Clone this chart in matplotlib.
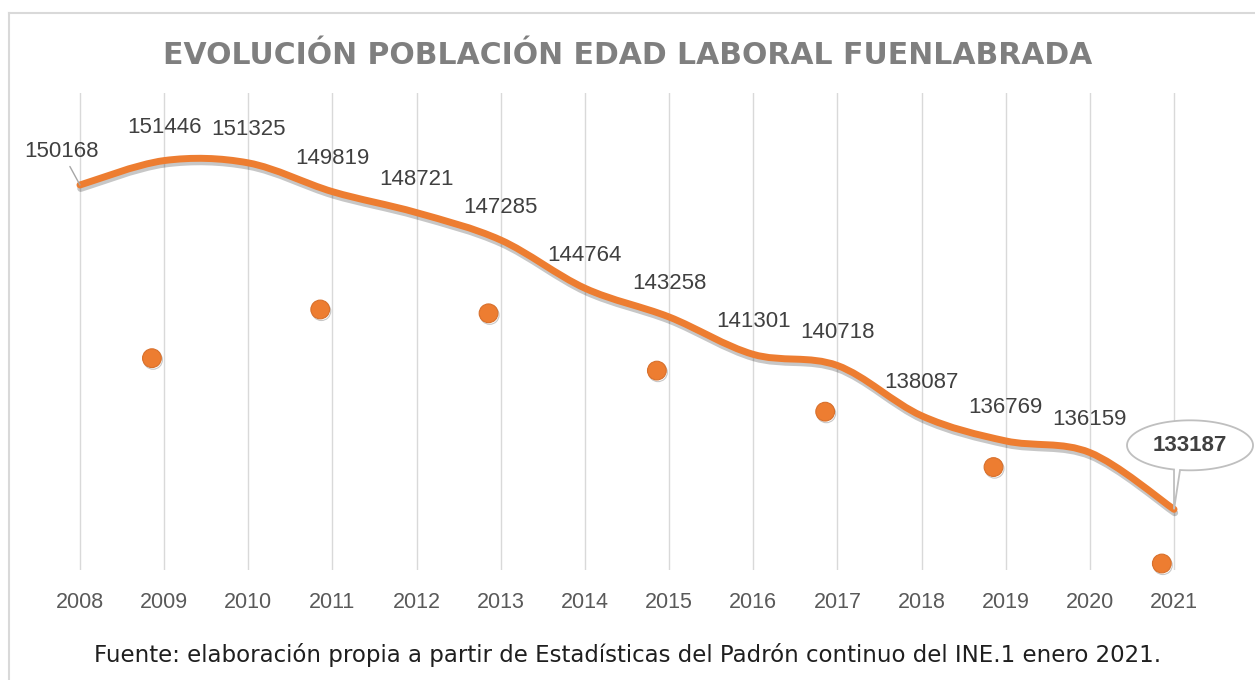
import numpy as np
import matplotlib
matplotlib.use("Agg")
import matplotlib.pyplot as plt
from matplotlib.path import Path
from matplotlib.patches import PathPatch, Polygon
import matplotlib.patheffects as pe
from matplotlib.lines import Line2D
from matplotlib.transforms import IdentityTransform

# ---------------- data ----------------
years = [2008, 2009, 2010, 2011, 2012, 2013, 2014, 2015, 2016, 2017, 2018, 2019, 2020, 2021]
poblacion = [150168, 151446, 151325, 149819, 148721, 147285, 144764,
             143258, 141301, 140718, 138087, 136769, 136159, 133187]
dot_years = [2009, 2011, 2013, 2015, 2017, 2019, 2021]
dot_values = [141100, 143650, 143450, 140450, 138300, 135400, 130350]
title = "EVOLUCIÓN POBLACIÓN EDAD LABORAL FUENLABRADA"
source = "Fuente: elaboración propia a partir de Estadísticas del Padrón continuo del INE.1 enero 2021."

# ---------------- style ----------------
ORANGE = "#ED7D31"
GRID = "#d9d9d9"
DOT_SHIFT = -0.145
W, H = 1255, 680
LBL_FONT = "Liberation Sans"

fig = plt.figure(figsize=(W / 100, H / 100), dpi=100)
fig.patch.set_facecolor("white")
ax = fig.add_axes([37.9 / W, 109.8 / H, (1216.1 - 37.9) / W, (587.3 - 109.8) / H])
ax.set_xlim(2007.5, 2021.5)
ax.set_ylim(130000, 155000)

for s in ax.spines.values():
    s.set_visible(False)
ax.set_yticks([])
ax.set_xticks(years)
ax.set_xticklabels([str(y) for y in years], fontsize=15.5, color="#595959", family=LBL_FONT)
ax.tick_params(axis="x", length=0, pad=16)
ax.grid(axis="x", color=GRID, lw=1.0)
ax.set_axisbelow(True)

# smooth line (Excel-like bezier smoothing through the data points)
P = np.column_stack([years, poblacion]).astype(float)
n = len(P)
verts = [P[0]]
codes = [Path.MOVETO]
for i in range(n - 1):
    p_prev = P[i - 1] if i > 0 else P[i]
    p_next2 = P[i + 2] if i + 2 < n else P[i + 1]
    c1 = P[i] + (P[i + 1] - p_prev) / 6.0
    c2 = P[i + 1] - (p_next2 - P[i]) / 6.0
    verts += [c1, c2, P[i + 1]]
    codes += [Path.CURVE4] * 3
line = PathPatch(Path(verts, codes), fill=False, edgecolor=ORANGE, lw=5,
                 capstyle="round", joinstyle="round", zorder=3)
line.set_path_effects([pe.SimpleLineShadow(offset=(0.5, -2.5), shadow_color="#000000", alpha=0.22),
                       pe.Normal()])
ax.add_patch(line)

# dots series
ax.plot(np.array(dot_years) + DOT_SHIFT, dot_values, "o", ms=13.5, color=ORANGE,
        mec="#d8702c", mew=0.8, zorder=4, clip_on=False,
        path_effects=[pe.SimpleLineShadow(offset=(0.8, -1.2), shadow_color="#000000", alpha=0.22),
                      pe.Normal()])

# data labels
for i, (x, v) in enumerate(zip(years, poblacion)):
    if i == len(years) - 1:
        continue
    if i == 0:
        ax.annotate(str(v), (x, v), xytext=(-18, 33), textcoords="offset pixels",
                    ha="center", va="center", fontsize=16, color="#404040", family=LBL_FONT,
                    arrowprops=dict(arrowstyle="-", color="#a6a6a6", lw=1, shrinkA=1, shrinkB=0),
                    zorder=5)
    else:
        ax.annotate(str(v), (x, v), xytext=(0, 33), textcoords="offset pixels",
                    ha="center", va="center", fontsize=16, color="#404040", family=LBL_FONT,
                    zorder=5)

# callout balloon for the last value
tip = ax.transData.transform((years[-1], poblacion[-1]))
cx, cy = tip[0] + 16, tip[1] + 64
a, b = 63, 25
t0 = np.arccos(np.clip((tip[0] + 6 - cx) / a, -1, 1))
t1 = np.arccos(np.clip((tip[0] - cx) / a, -1, 1))
ts = np.linspace(-t0, 2 * np.pi - t1, 200)
pts = np.column_stack([cx + a * np.cos(ts), cy + b * np.sin(ts)])
pts = np.vstack([pts, [tip[0], tip[1]]])
balloon = Polygon(pts, closed=True, facecolor="white", edgecolor="#bfbfbf", lw=1.3,
                  transform=IdentityTransform(), zorder=6)
fig.add_artist(balloon)
fig.text(cx / W, cy / H, str(poblacion[-1]), ha="center", va="center", fontsize=16,
         weight="bold", color="#404040", family=LBL_FONT, zorder=7)

# titles
fig.text(0.5, 1 - 56 / H, title, ha="center", va="center", fontsize=21.5, weight="bold",
         color="#7f7f7f", family="DejaVu Sans")
fig.text(0.5, 1 - 655 / H, source, ha="center", va="center", fontsize=16.5,
         color="#1f1f1f", family="DejaVu Sans")

# chart border (left and top visible)
fig.add_artist(Line2D([9 / W, 9 / W], [0, 1 - 13 / H], color=GRID, lw=1.5, transform=fig.transFigure))
fig.add_artist(Line2D([9 / W, 1], [1 - 13 / H, 1 - 13 / H], color=GRID, lw=1.5, transform=fig.transFigure))

fig.savefig("out.png", dpi=100)
